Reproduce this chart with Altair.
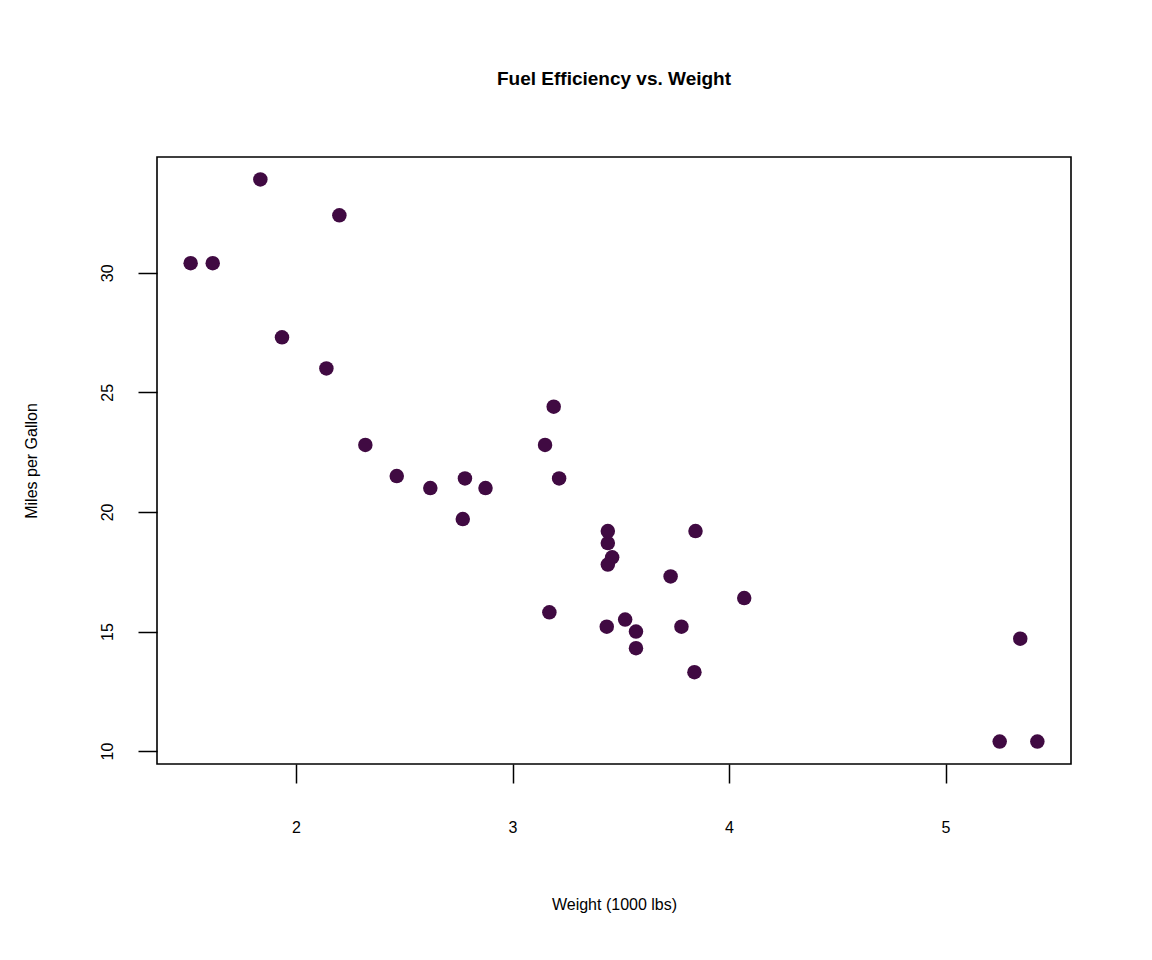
import altair as alt
import pandas as pd

wt = [2.620, 2.875, 2.320, 3.215, 3.440, 3.460, 3.570, 3.190, 3.150, 3.440,
      3.440, 4.070, 3.730, 3.780, 5.250, 5.424, 5.345, 2.200, 1.615, 1.835,
      2.465, 3.520, 3.435, 3.840, 3.845, 1.935, 2.140, 1.513, 3.170, 2.770,
      3.570, 2.780]
mpg = [21.0, 21.0, 22.8, 21.4, 18.7, 18.1, 14.3, 24.4, 22.8, 19.2,
       17.8, 16.4, 17.3, 15.2, 10.4, 10.4, 14.7, 32.4, 30.4, 33.9,
       21.5, 15.5, 15.2, 13.3, 19.2, 27.3, 26.0, 30.4, 15.8, 19.7,
       15.0, 21.4]
x_ticks = [2, 3, 4, 5]
y_ticks = [10, 15, 20, 25, 30]

df = pd.DataFrame({"wt": wt, "mpg": mpg})

FONT = "Liberation Sans"

chart = alt.Chart(df).mark_circle(size=210, opacity=1, color="#400A42").encode(
    x=alt.X("wt:Q",
            scale=alt.Scale(domain=[1.3576, 5.5794], nice=False, zero=False),
            axis=alt.Axis(values=x_ticks, title="Weight (1000 lbs)", grid=False,
                          domain=False, tickSize=19, tickWidth=1.5, tickColor="black",
                          labelPadding=49, labelBaseline="alphabetic", labelFontSize=16,
                          labelColor="black", labelFont=FONT, titleFont=FONT,
                          titleFontSize=16, titleFontWeight="normal", titleColor="black",
                          titleY=145, titleBaseline="alphabetic")),
    y=alt.Y("mpg:Q",
            scale=alt.Scale(domain=[9.46, 34.84], nice=False, zero=False),
            axis=alt.Axis(values=y_ticks, title="Miles per Gallon", grid=False,
                          domain=False, tickSize=19, tickWidth=1.5, tickColor="black",
                          labelPadding=26, labelAngle=270, labelAlign="center",
                          labelBaseline="alphabetic", labelFontSize=16,
                          labelColor="black", labelFont=FONT, titleFont=FONT,
                          titleFontSize=16, titleFontWeight="normal", titleColor="black",
                          titleAngle=270, titleX=-121, titleBaseline="alphabetic")),
).properties(
    width=914,
    height=607,
    title=alt.TitleParams("Fuel Efficiency vs. Weight", font=FONT, fontSize=19,
                          fontWeight="bold", color="black", anchor="middle",
                          baseline="alphabetic", offset=53),
    autosize=alt.AutoSizeParams(type="none"),
    padding={"left": 149, "top": 149, "right": 73, "bottom": 180},
).configure(
    background="white",
    view=alt.ViewConfig(stroke="black", strokeWidth=1.6, fill=None),
)

chart.save("out.html", embed_options={"renderer": "svg", "actions": False})
